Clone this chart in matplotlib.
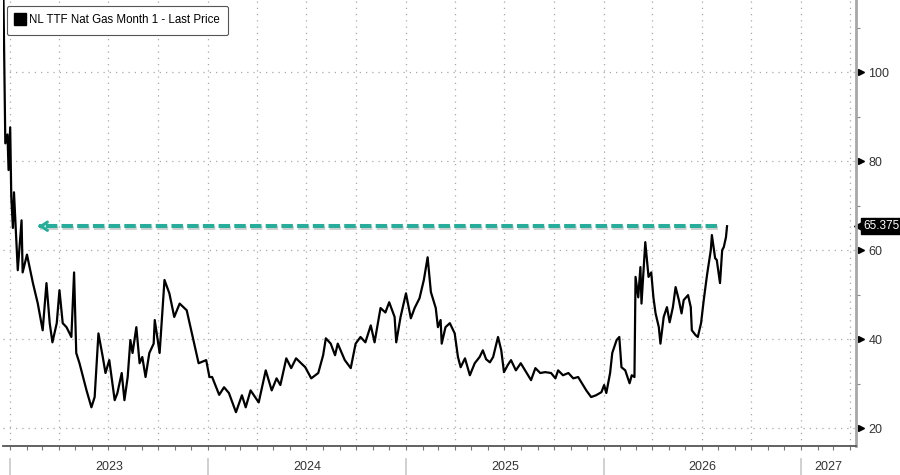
import numpy as np
import pandas as pd
import matplotlib
matplotlib.use('Agg')
from matplotlib import pyplot as plt
import matplotlib.dates as mdates
import matplotlib.transforms as mtransforms
import matplotlib.patheffects as pe
from matplotlib.lines import Line2D

plt.rcParams['font.family'] = ['Liberation Sans', 'DejaVu Sans']

# NL TTF front month
dates = [
    '2022-12-19', '2022-12-23', '2022-12-27', '2022-12-29', '2023-01-01', '2023-01-03',
    '2023-01-06', '2023-01-08', '2023-01-15', '2023-01-22', '2023-01-24', '2023-02-01',
    '2023-02-12', '2023-02-21', '2023-03-02', '2023-03-09', '2023-03-15', '2023-03-20',
    '2023-03-28', '2023-04-02', '2023-04-08', '2023-04-15', '2023-04-24', '2023-04-29',
    '2023-05-03', '2023-05-09', '2023-05-22', '2023-05-31', '2023-06-06', '2023-06-13',
    '2023-06-21', '2023-06-26', '2023-07-03', '2023-07-13', '2023-07-18', '2023-07-26',
    '2023-07-31', '2023-08-06', '2023-08-11', '2023-08-15', '2023-08-22', '2023-08-28',
    '2023-09-02', '2023-09-08', '2023-09-15', '2023-09-23', '2023-09-25', '2023-10-04',
    '2023-10-13', '2023-10-22', '2023-10-31', '2023-11-10', '2023-11-23', '2023-12-04',
    '2023-12-15', '2023-12-29',
    '2024-01-04', '2024-01-09', '2024-01-22', '2024-01-31', '2024-02-09', '2024-02-22',
    '2024-03-04', '2024-03-11', '2024-03-20', '2024-04-04', '2024-04-17', '2024-04-28',
    '2024-05-07', '2024-05-14', '2024-05-25', '2024-06-03', '2024-06-12', '2024-06-29',
    '2024-07-10', '2024-07-23', '2024-08-01', '2024-08-06', '2024-08-15', '2024-08-23',
    '2024-08-28', '2024-09-10', '2024-09-21', '2024-09-30', '2024-10-09', '2024-10-18',
    '2024-10-28', '2024-11-04', '2024-11-15', '2024-11-24', '2024-12-01', '2024-12-11',
    '2024-12-14', '2024-12-22',
    '2025-01-01', '2025-01-10', '2025-01-17', '2025-01-26', '2025-02-03', '2025-02-10',
    '2025-02-16', '2025-02-25', '2025-03-01', '2025-03-06', '2025-03-08', '2025-03-15',
    '2025-03-23', '2025-04-01', '2025-04-07', '2025-04-12', '2025-04-20', '2025-04-29',
    '2025-05-08', '2025-05-17', '2025-05-23', '2025-05-29', '2025-06-05', '2025-06-11',
    '2025-06-20', '2025-06-26', '2025-07-01', '2025-07-08', '2025-07-14', '2025-07-23',
    '2025-08-01', '2025-08-11', '2025-08-20', '2025-08-28', '2025-09-06', '2025-09-15',
    '2025-09-26', '2025-10-04', '2025-10-09', '2025-10-18', '2025-10-28', '2025-11-06',
    '2025-11-15', '2025-11-21', '2025-11-30', '2025-12-09', '2025-12-18', '2025-12-28',
    '2026-01-02', '2026-01-06', '2026-01-13', '2026-01-17', '2026-01-25', '2026-01-30',
    '2026-02-03', '2026-02-10', '2026-02-18', '2026-02-22', '2026-02-27', '2026-03-01',
    '2026-03-06', '2026-03-10', '2026-03-12', '2026-03-19', '2026-03-25', '2026-03-30',
    '2026-04-03', '2026-04-07', '2026-04-13', '2026-04-16', '2026-04-22', '2026-04-28',
    '2026-05-03', '2026-05-09', '2026-05-14', '2026-05-20', '2026-05-25', '2026-05-29',
    '2026-06-06', '2026-06-11', '2026-06-13', '2026-06-20', '2026-06-24', '2026-06-30',
    '2026-07-05', '2026-07-11', '2026-07-18', '2026-07-20', '2026-07-26', '2026-07-29',
    '2026-08-04', '2026-08-08', '2026-08-11', '2026-08-15', '2026-08-17',
]
prices = [
    122, 84, 86, 78, 87.6, 72,
    65, 73, 55.5, 66.7, 55, 59,
    52.6, 48, 42, 52.6, 43.6, 39.3,
    43.6, 51, 43.6, 42.7, 40.5, 55,
    36.9, 34.6, 28.5, 24.7, 27, 41.3,
    36, 32.4, 35.3, 26.3, 27.9, 32.4,
    26.3, 31.5, 39.8, 36.9, 42.7, 34.6,
    36, 31.5, 36.9, 39, 44.3, 36.9,
    53.3, 50.3, 45, 48, 46.5, 40.5,
    34.6, 35.3,
    31.5, 31.5, 27.5, 29.2, 27.9, 23.6,
    27.4, 24.7, 28.5, 25.8, 33, 28.5,
    31.2, 29.7, 35.7, 33.5, 35.7, 33.7,
    31.2, 32.4, 36.4, 40.2, 39, 36.4,
    39, 35.3, 33.5, 39, 40.5, 39.3,
    43.1, 39.3, 47, 46, 48.3, 45,
    39.3, 45,
    50.3, 44.7, 47, 49.2, 53.3, 58.4,
    50.6, 47, 42.7, 44.3, 39, 42.7,
    43.6, 41.3, 36, 33.7, 35.7, 31.9,
    34.6, 36, 37.5, 35.5, 34.8, 36,
    40.5, 37.5, 32.6, 34.2, 35.3, 33,
    34.6, 32.6, 30.8, 33.5, 32.4, 32.6,
    32.4, 31.2, 33, 31.9, 32.4, 31.2,
    31.5, 30.3, 28.5, 27, 27.4, 28.1,
    29.7, 27.9, 32.4, 36.9, 39.8, 40.5,
    33.7, 33, 30.1, 31.9, 31.5, 54,
    49.4, 56.2, 48, 61.8, 54, 55,
    49.4, 45.8, 42.7, 39, 45, 47.2,
    43.8, 47.2, 51.7, 48.8, 45.8, 48.8,
    49.9, 47.2, 42, 40.9, 40.5, 43.6,
    48.8, 54.4, 60, 63.4, 58.2, 57.8,
    52.6, 60, 60.7, 62.9, 65.375,
]

last_price = 65.375
arrow_start = '2026-07-29'
arrow_end = '2023-02-17'
y_ticks = [20, 40, 60, 80, 100]
years = [2023, 2024, 2025, 2026, 2027]
x_start = '2022-12-19'
x_stop = '2027-04-12'

df = pd.DataFrame({'date': pd.to_datetime(dates), 'price': prices})

fig = plt.figure(figsize=(9, 4.75), dpi=100)
ax = fig.add_axes([0.0035, 0.061, 0.9475, 0.939])

ax.plot(df['date'], df['price'], color='black', lw=1.6, zorder=3)

x0 = pd.Timestamp(x_start)
x1 = pd.Timestamp(x_stop)
ax.set_xlim(x0, x1)
ax.set_ylim(16, 116.2)

# grid
ax.xaxis.set_major_locator(mdates.MonthLocator(bymonth=[1, 4, 7, 10]))
ax.xaxis.set_minor_locator(mdates.MonthLocator())
ax.xaxis.set_major_formatter(plt.NullFormatter())
ax.set_yticks(y_ticks)
ax.yaxis.set_minor_locator(plt.MultipleLocator(10))
ax.grid(True, which='major', color='#a8a8a8', lw=0.9, ls=(0, (1, 4)))
ax.tick_params(axis='x', which='both', length=3, color='#777777', width=0.8)

for s in ['top', 'left']:
    ax.spines[s].set_visible(False)
ax.spines['bottom'].set_color('#555555')
ax.spines['bottom'].set_linewidth(1.3)
ax.spines['right'].set_color('#a8a8a8')
ax.spines['right'].set_linewidth(2)

ax.yaxis.tick_right()
ax.tick_params(axis='y', which='major', length=0, pad=9, labelsize=9, labelcolor='#333333')
ax.tick_params(axis='y', which='minor', length=3, color='#888888', width=0.8)

# little triangles at the y ticks
trans_y = mtransforms.blended_transform_factory(ax.transAxes, ax.transData)
tri_trans = mtransforms.offset_copy(trans_y, fig=fig, x=5, y=0, units='dots')
ax.plot([1.0] * len(y_ticks), y_ticks, ls='none', marker='>', ms=5, color='black',
        transform=tri_trans, clip_on=False)

# year separators and labels under the axis
trans_x = mtransforms.blended_transform_factory(ax.transData, ax.transAxes)
for yr in years:
    start = pd.Timestamp(f'{yr}-01-01')
    end = pd.Timestamp(f'{yr + 1}-01-01')
    ax.plot([start, start], [-0.028, -0.07], color='#c8c8c8', lw=1.2,
            transform=trans_x, clip_on=False)
    mid = max(start, x0) + (min(end, x1) - max(start, x0)) / 2
    ax.text(mid, -0.047, str(yr), transform=trans_x, ha='center', va='center',
            fontsize=9, color='#333333')

# teal dashed arrow back to early 2023
a0 = pd.Timestamp(arrow_start)
a1 = pd.Timestamp(arrow_end)
teal = '#26ae9b'
shadow = [pe.SimpleLineShadow(offset=(1, -1.5), alpha=0.18), pe.Normal()]
ax.plot([a0, a1 + pd.Timedelta(days=6)], [last_price, last_price], color=teal, lw=2.9,
        ls=(0, (2.85, 1.05)), zorder=4, path_effects=shadow)
ax.annotate('', xy=(a1, last_price), xytext=(a1 + pd.Timedelta(days=14), last_price),
            arrowprops=dict(arrowstyle='->,head_length=0.45,head_width=0.3',
                            color=teal, lw=2.2), zorder=4)

# last price tag
tag_trans = mtransforms.offset_copy(trans_y, fig=fig, x=7, y=0, units='dots')
ax.text(1.0, last_price, '65.375', transform=tag_trans, ha='left', va='center',
        fontsize=8.5, color='white',
        bbox=dict(boxstyle='square,pad=0.15', fc='black', ec='black'), clip_on=False)
tip_trans = mtransforms.offset_copy(trans_y, fig=fig, x=4, y=0, units='dots')
ax.plot([1.0], [last_price], marker='<', ms=8, color='black', transform=tip_trans,
        clip_on=False)

handle = Line2D([], [], ls='none', marker='s', ms=8, color='black')
leg = ax.legend([handle], ['NL TTF Nat Gas Month 1 - Last Price'], loc='upper left',
                bbox_to_anchor=(0.0, 0.995), fontsize=8.3, frameon=True, fancybox=True,
                edgecolor='#555555', handlelength=0.8, handletextpad=0.35,
                borderpad=0.75, borderaxespad=0.3, framealpha=1)
leg.get_frame().set_linewidth(0.8)

fig.savefig('out.png', dpi=100)
